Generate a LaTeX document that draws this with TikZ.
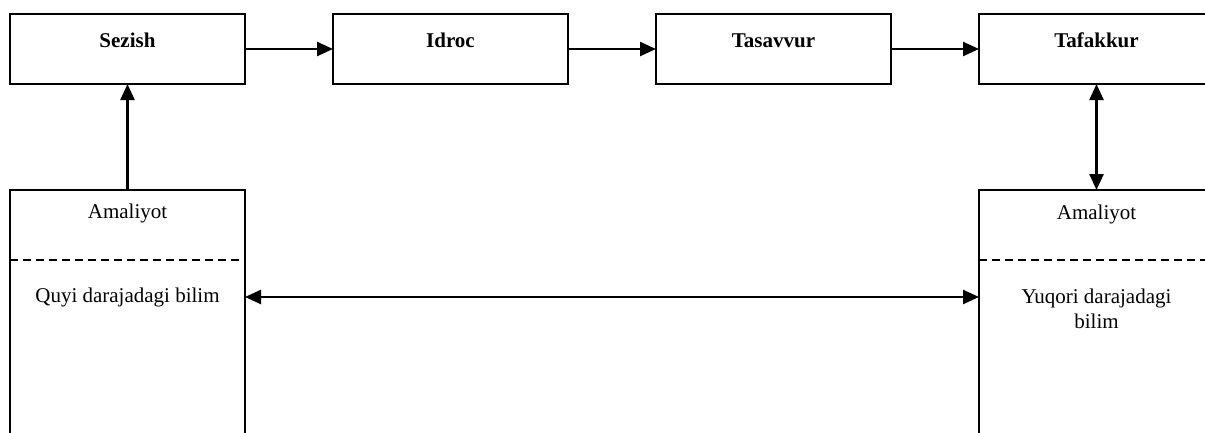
\documentclass[tikz,border=0pt]{standalone}
\usepackage{fontspec}
\setmainfont{Liberation Serif}
\usepackage{tikz}
\usetikzlibrary{calc,positioning}
\usetikzlibrary{arrows.meta}
\tikzset{>={Triangle[width=14pt,length=16pt]}}

\begin{document}
\begin{tikzpicture}[x=1pt,y=-1pt]
    \tikzstyle{snode} = [draw, line width=2.2pt, minimum width=235pt, minimum height=70pt, inner sep=0pt, outer sep=0pt,
                         text height=16pt, text depth=20pt, font=\fontsize{21}{25}\selectfont\bfseries]
    \tikzstyle{knode} = [draw, line width=1.8pt, minimum width=235pt, minimum height=300pt, inner sep=0pt, outer sep=0pt]
    \tikzstyle{tnode} = [inner sep=0pt, align=center, font=\fontsize{21}{25}\selectfont]

    \useasboundingbox (0,0) rectangle (1205,432);

    \node[snode] (sezish) at (127.5,49) {Sezish};
    \node[snode, right=88pt of sezish] (idroc) {Idroc};
    \node[snode, right=88pt of idroc] (tasavvur) {Tasavvur};
    \node[snode, right=88pt of tasavvur] (tafakkur) {Tafakkur};

    \node[knode, below=106pt of sezish] (lowBox) {};
    \node[knode, below=106pt of tafakkur] (highBox) {};

    \node[tnode] (lowPrac) at ([yshift=-23pt]lowBox.north) {Amaliyot};
    \node[tnode] (lowKnow) at ([yshift=-107pt]lowBox.north) {Quyi darajadagi bilim};
    \node[tnode] (highPrac) at ([yshift=-24pt]highBox.north) {Amaliyot};
    \node[tnode] (highKnow) at ([yshift=-119pt]highBox.north) {Yuqori darajadagi\\bilim};

    \draw[line width=1.4pt, dash pattern=on 8pt off 5pt] ([yshift=-70pt]lowBox.north west) -- ([yshift=-70pt]lowBox.north east);
    \draw[line width=1.4pt, dash pattern=on 8pt off 5pt] ([yshift=-70pt]highBox.north west) -- ([yshift=-70pt]highBox.north east);

    \draw[->, line width=2.4pt] (sezish) -- (idroc);
    \draw[->, line width=2.4pt] (idroc) -- (tasavvur);
    \draw[->, line width=2.4pt] (tasavvur) -- (tafakkur);
    \draw[->, line width=2.4pt] (lowBox.north) -- (sezish.south);
    \draw[<->, line width=2.4pt] (tafakkur.south) -- (highBox.north);
    \draw[<->, line width=2.4pt] (lowBox.east |- lowKnow) -- (highBox.west |- lowKnow);

  \end{tikzpicture}
\end{document}
